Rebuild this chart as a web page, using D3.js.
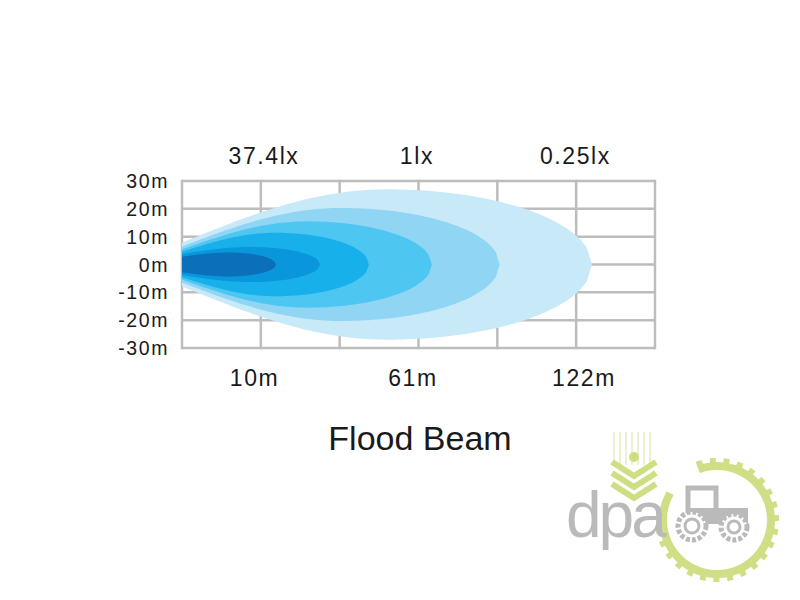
<!DOCTYPE html>
<html><head><meta charset="utf-8">
<script src="https://cdn.jsdelivr.net/npm/d3@7"></script>
<style>body{margin:0;background:#fff}svg{display:block}text{font-family:"Liberation Sans",Arial,sans-serif}</style>
</head><body><svg id="c" width="800" height="600"></svg>
<script>
// ---- data ----
const yTicks = [30, 20, 10, 0, -10, -20, -30];
const yTickLabels = ["30m", "20m", "10m", "0m", "-10m", "-20m", "-30m"];
const xGridCols = [0, 1, 2, 3, 4, 5, 6];             // grid columns
const luxLabels = ["37.4lx", "1lx", "0.25lx"];
const luxPos = [1.04, 2.98, 4.99];                   // in grid columns
const distLabels = ["10m", "61m", "122m"];
const distPos = [0.92, 2.93, 5.1];
const layerNames = ["L1", "L2", "L3", "L4", "L5", "L6"];
const layerReach = [5.2, 4.03, 3.17, 2.37, 1.75, 1.19];     // grid columns
const layerHalf = [27, 20.3, 15.5, 11.4, 6.3, 4.3];         // metres
const layerStart = [0.29, 0.32, 0.35, 0.4, 0.6, 0.65];      // relative width at source
const layerColors = ["#c7e9f8", "#90d5f4", "#4dc6f1", "#17b0ea", "#0a96da", "#0b6fb9"];
const title = "Flood Beam";

const svg = d3.select("#c");
const x = d3.scaleLinear().domain([0, 6]).range([182, 655]);
const y = d3.scaleLinear().domain([-30, 30]).range([348, 181]);

// grid
const gridG = svg.append("g");
yTicks.forEach(v => gridG.append("line").attr("x1", x(0)).attr("x2", x(6)).attr("y1", y(v)).attr("y2", y(v))
  .attr("stroke", "#bdbdbd").attr("stroke-width", 2.5));
xGridCols.forEach(v => gridG.append("line").attr("x1", x(v)).attr("x2", x(v)).attr("y1", y(30) - 1.2).attr("y2", y(-30) + 1.2)
  .attr("stroke", "#bdbdbd").attr("stroke-width", 2.5));

// beams
const beamG = svg.append("g");
layerNames.forEach((n, i) => {
  const R = layerReach[i], W = layerHalf[i], w0 = layerStart[i], c = 0.5;
  const N = 80;
  const top = d3.range(N + 1).map(k => {
    const t = k / N;
    let g;
    if (t < c) g = w0 + (1 - w0) * Math.sin(Math.PI / 2 * t / c);
    else g = Math.sqrt(Math.max(0, 1 - Math.pow((t - c) / (1 - c), 2)));
    return [t * R, g * W];
  });
  const pts = top.concat(top.slice().reverse().map(p => [p[0], -p[1]]));
  const line = d3.line().x(d => x(d[0])).y(d => y(d[1])).curve(d3.curveLinearClosed);
  beamG.append("path").attr("d", line(pts)).attr("fill", layerColors[i]);
});

// y labels
yTicks.forEach((v, i) => svg.append("text").attr("x", 169).attr("y", y(v) + 7).attr("text-anchor", "end")
  .attr("font-size", 19.5).attr("letter-spacing", 1.6).attr("fill", "#1a1a1a").text(yTickLabels[i]));
// lux labels
luxLabels.forEach((t, i) => svg.append("text").attr("x", x(luxPos[i])).attr("y", 164).attr("text-anchor", "middle")
  .attr("font-size", 23).attr("letter-spacing", 1.6).attr("fill", "#1a1a1a").text(t));
distLabels.forEach((t, i) => svg.append("text").attr("x", x(distPos[i])).attr("y", 386).attr("text-anchor", "middle")
  .attr("font-size", 23).attr("letter-spacing", 1.6).attr("fill", "#1a1a1a").text(t));
svg.append("text").attr("x", 420).attr("y", 450).attr("text-anchor", "middle").attr("font-size", 34)
  .attr("fill", "#1a1a1a").text(title);

// watermark logo
const lg = svg.append("g").attr("opacity", 0.9);
const cx = 717, cy = 520;
lg.append("path").attr("d", d3.arc().innerRadius(50).outerRadius(58).startAngle(-0.35).endAngle(Math.PI * 2 - 1.05)())
  .attr("transform", `translate(${cx},${cy})`).attr("fill", "#cbdc7a");
d3.range(22).forEach(k => {
  const a = -0.3 + k * 0.23;
  if (a > Math.PI * 2 - 1.1) return;
  lg.append("rect").attr("x", -3).attr("y", -62).attr("width", 6).attr("height", 6)
    .attr("transform", `translate(${cx},${cy}) rotate(${a * 180 / Math.PI})`).attr("fill", "#cbdc7a");
});
d3.range(7).forEach(k => lg.append("line").attr("x1", 614 + k * 6).attr("x2", 614 + k * 6).attr("y1", 432).attr("y2", 465)
  .attr("stroke", "#e3ebbf").attr("stroke-width", 1.5));
[0, 1, 2].forEach(k => lg.append("path").attr("d", `M${612},${462 + k * 11} L${634},${476 + k * 11} L${656},${462 + k * 11}`)
  .attr("fill", "none").attr("stroke", "#c9db75").attr("stroke-width", 6));
lg.append("circle").attr("cx", 634).attr("cy", 457).attr("r", 5).attr("fill", "#c9db75");
lg.append("text").attr("x", 566).attr("y", 537).attr("font-size", 64).attr("letter-spacing", -3)
  .attr("fill", "#b3b3b3").text("dpa");
lg.append("rect").attr("x", 688).attr("y", 488).attr("width", 28).attr("height", 24).attr("fill", "none")
  .attr("stroke", "#b3b3b3").attr("stroke-width", 5);
lg.append("rect").attr("x", 686).attr("y", 508).attr("width", 62).attr("height", 16).attr("fill", "#b3b3b3");
[[692, 526, 14], [734, 527, 13]].forEach(w => {
  lg.append("circle").attr("cx", w[0]).attr("cy", w[1]).attr("r", w[2]).attr("fill", "#fff").attr("stroke", "#b3b3b3").attr("stroke-width", 5).attr("stroke-dasharray", "4 2");
  lg.append("circle").attr("cx", w[0]).attr("cy", w[1]).attr("r", w[2] - 7).attr("fill", "none").attr("stroke", "#b3b3b3").attr("stroke-width", 3);
});
</script></body></html>
